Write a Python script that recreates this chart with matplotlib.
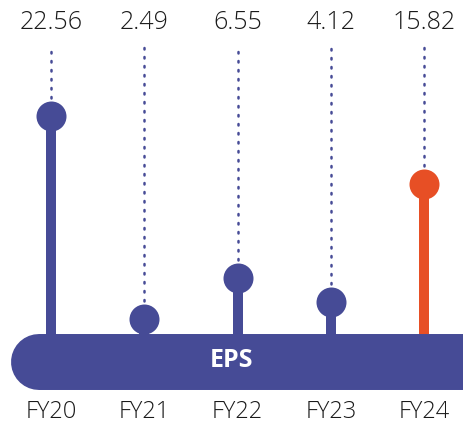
import matplotlib.pyplot as plt

years = ["FY20", "FY21", "FY22", "FY23", "FY24"]
eps = [22.56, 2.49, 6.55, 4.12, 15.82]
highlight = "FY24"

blue = "#464b96"
orange = "#e74f25"

plt.rcParams['font.family'] = ['Open Sans', 'DejaVu Sans']

fig = plt.figure(figsize=(4.63, 4.25), dpi=100)
ax = fig.add_axes([0, 0, 1, 1])
ax.set_xlim(-0.547, 4.418)
ax.set_ylim(-8.02, 34.06)
ax.axis('off')

x = list(range(len(years)))
colors = [orange if y == highlight else blue for y in years]

# dotted guides from label down to marker
ax.vlines(x, eps, 29.6, color=blue, lw=1.8, linestyles=[(0, (0.6, 3.0))],
          capstyle='round', zorder=1)

# stems + markers
for xi, v, c in zip(x, eps, colors):
    ax.plot([xi, xi], [-1, v], color=c, lw=7.2, solid_capstyle='butt', zorder=2)
    ax.plot(xi, v, 'o', color=c, ms=21.6, mec='none', zorder=3)
    ax.text(xi, 31.8, f"{v:.2f}", ha='center', va='center', fontsize=18,
            fontweight='light', color='#1a1a1a')
    ax.text(xi, -6.7, years[xi], ha='center', va='center', fontsize=17,
            fontweight='light', color='#1a1a1a')

# EPS base bar (rounded pill)
ax.plot([-0.129, 5.2], [-1.78, -1.78], color=blue, lw=40.3, solid_capstyle='round', zorder=4)
ax.text(1.94, -1.6, "EPS", ha='center', va='center', fontsize=18, fontweight='bold',
        color='white', zorder=5)

fig.savefig("out.png", dpi=100)
